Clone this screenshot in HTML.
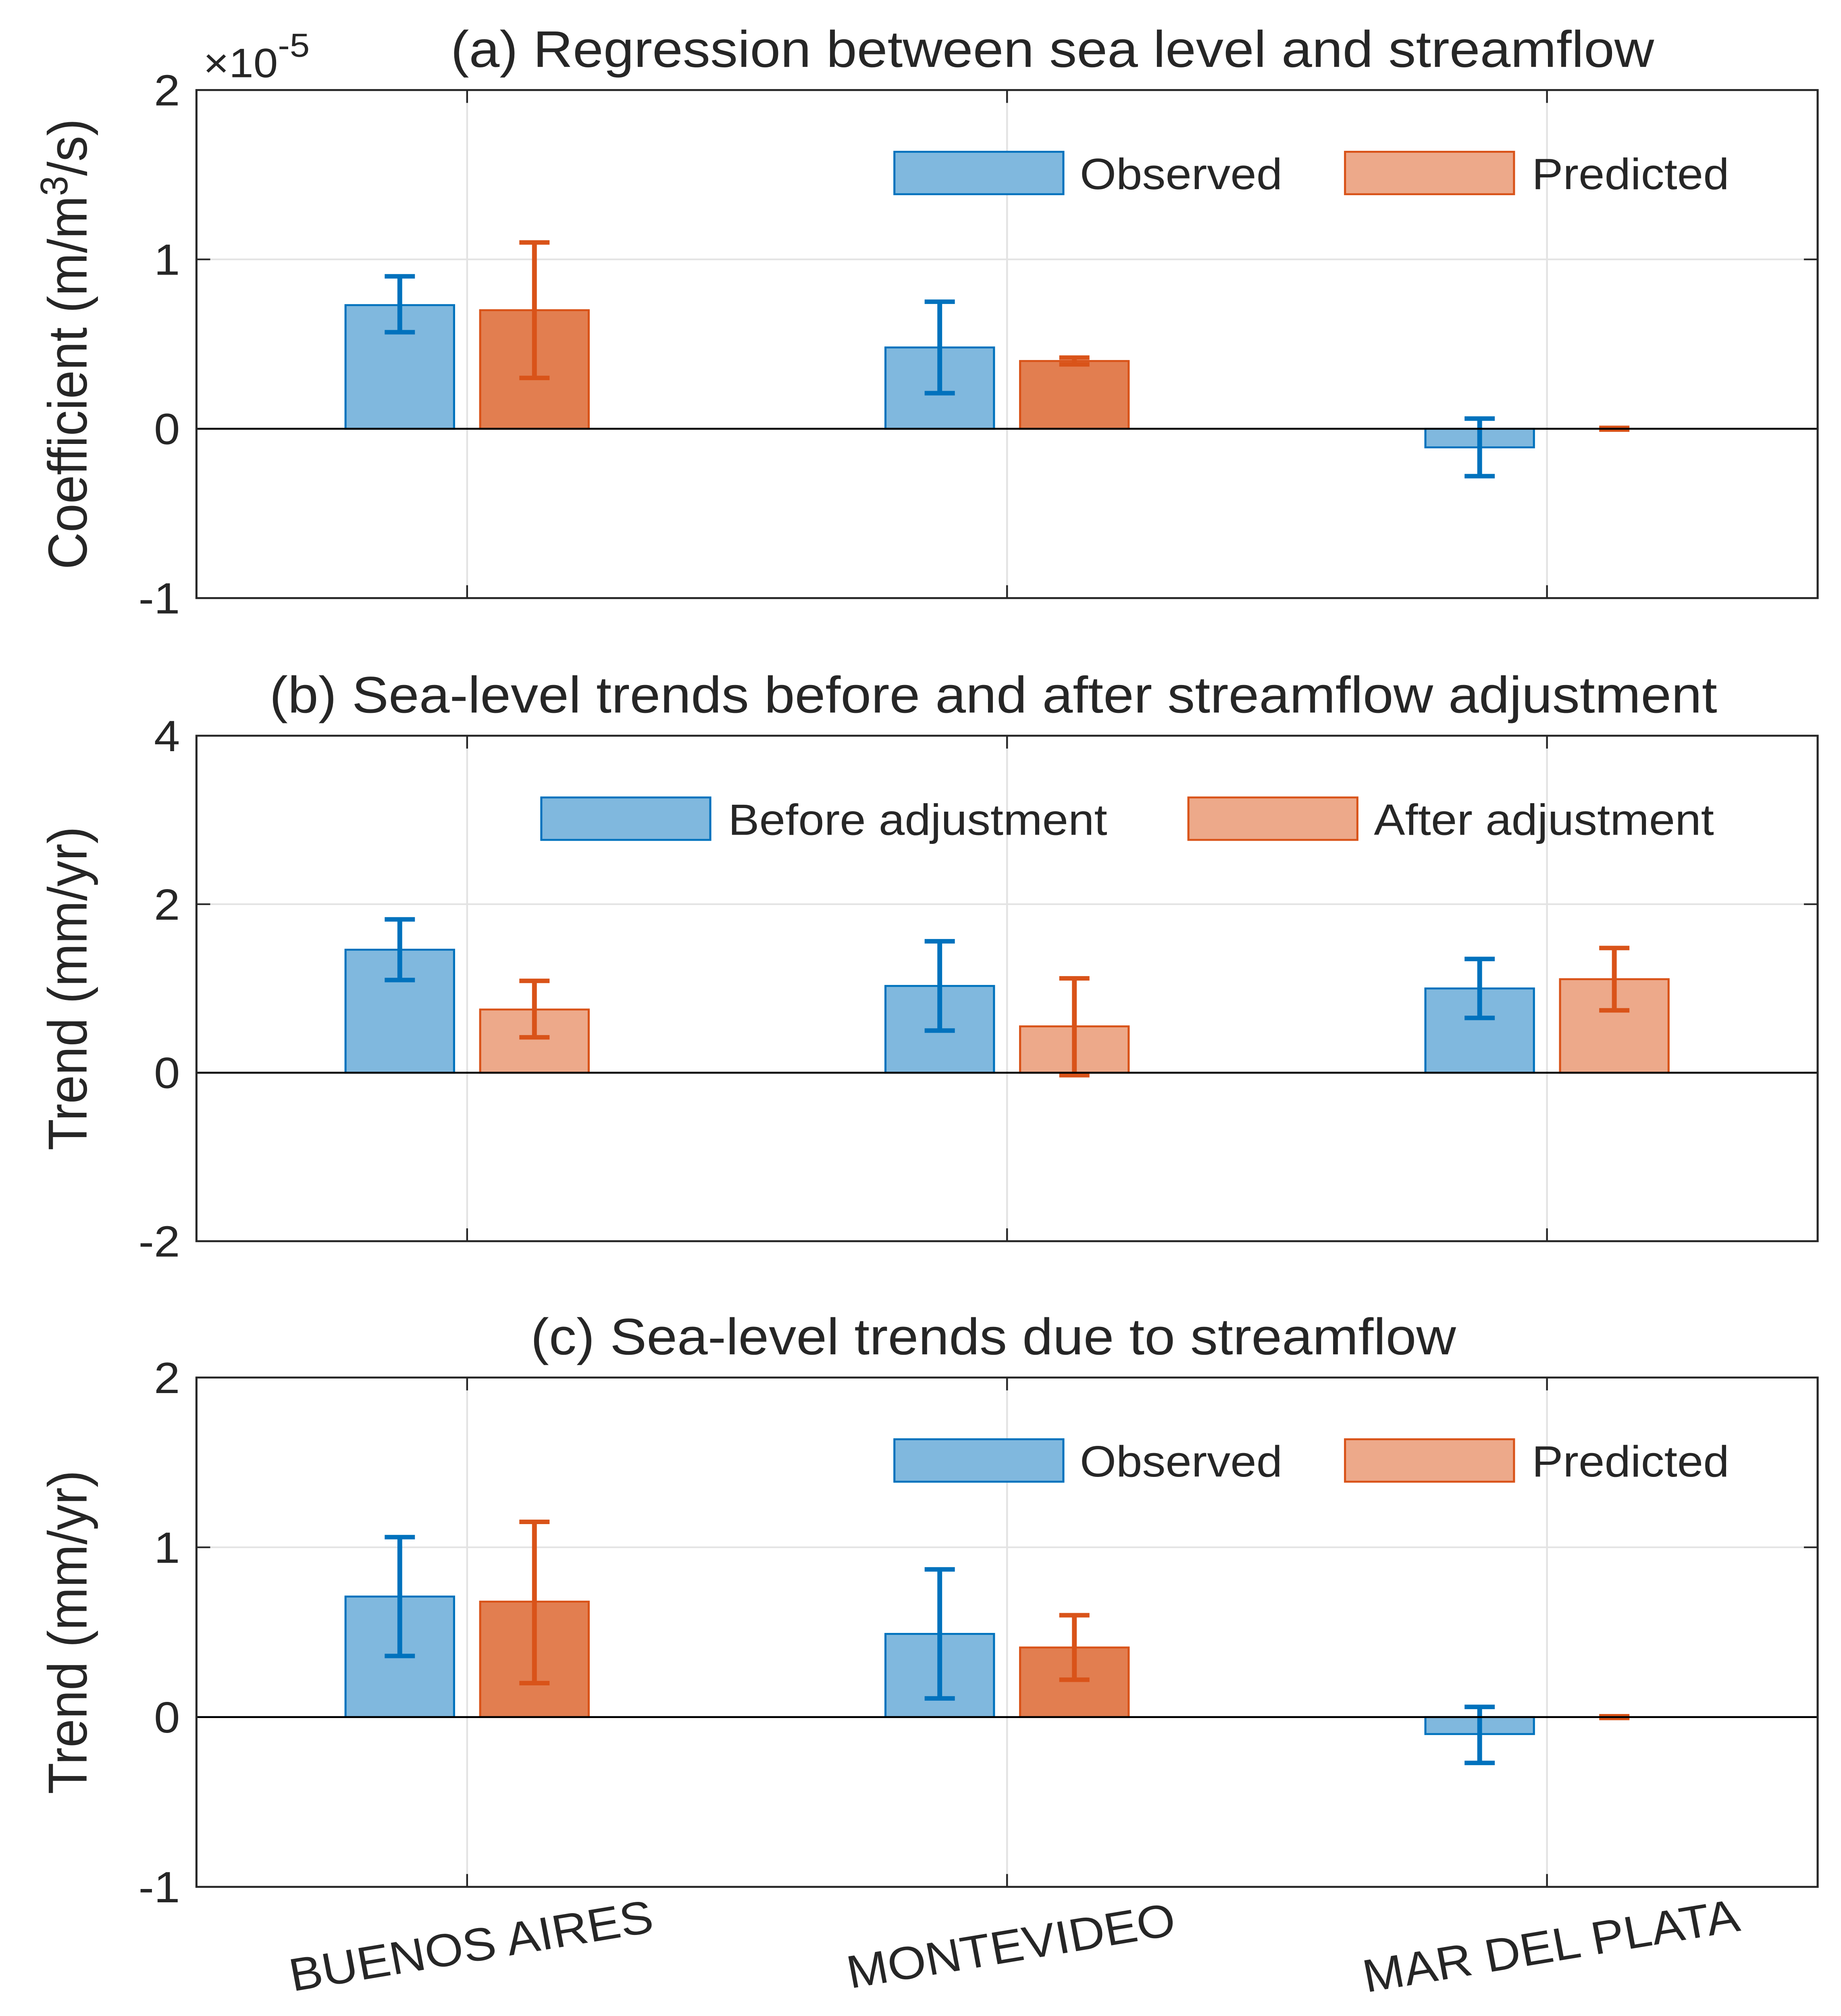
<!DOCTYPE html>
<html><head><meta charset="utf-8"><style>
html,body{margin:0;padding:0;background:#fff;width:100vw;height:100vh;overflow:hidden}
svg{display:block;width:100vw;height:100vh}
text{font-family:"Liberation Sans",sans-serif;fill:#262626}
</style></head><body>
<svg id="fig" xmlns="http://www.w3.org/2000/svg" viewBox="0 0 1340 1567.4" preserveAspectRatio="none"></svg>
<script>
const categories=["BUENOS AIRES","MONTEVIDEO","MAR DEL PLATA"];
const aBlue=[0.73,0.48,-0.11], aBlueLo=[0.57,0.21,-0.28], aBlueHi=[0.90,0.75,0.06];
const aOr=[0.70,0.40,0.0], aOrLo=[0.30,0.38,-0.005], aOrHi=[1.10,0.42,0.005];
const bBlue=[1.46,1.03,1.00], bBlueLo=[1.10,0.50,0.65], bBlueHi=[1.82,1.56,1.35];
const bOr=[0.75,0.55,1.11], bOrLo=[0.42,-0.03,0.74], bOrHi=[1.09,1.12,1.48];
const cBlue=[0.71,0.49,-0.10], cBlueLo=[0.36,0.11,-0.27], cBlueHi=[1.06,0.87,0.06];
const cOr=[0.68,0.41,0.0], cOrLo=[0.20,0.22,-0.005], cOrHi=[1.15,0.60,0.005];
const aTicks=[-1,0,1,2], bTicks=[-2,0,2,4], cTicks=[-1,0,1,2];

const NS="http://www.w3.org/2000/svg";
const svg=document.getElementById('fig');
function el(tag,attrs,parent,txt){const e=document.createElementNS(NS,tag);for(const k in attrs)e.setAttribute(k,attrs[k]);if(txt!==undefined)e.textContent=txt;(parent||svg).appendChild(e);return e;}
const X0=143,X1=1323;
const xCat=i=>340+i*393;
const BW=79,OFF=49;
function panel(id,top,bot,ticks,blue,bLo,bHi,or,oLo,oHi,orFill,title,titleX,ylab,leg){
  const g=el('g',{},svg);
  
  
  const lo=ticks[0],hi=ticks[ticks.length-1];
  const y=v=>bot-(v-lo)/(hi-lo)*(bot-top);
  ticks.forEach(t=>{
    const gl=el('line',{x1:X0,x2:X1,y1:y(t),y2:y(t),stroke:'#e3e3e3','stroke-width':1.3},g);
    
    
    const tl=el('text',{x:X0-12,y:y(t)+12,'text-anchor':'end','font-size':34},g,String(t));
    
    
  });
  categories.forEach((c,i)=>{el('line',{x1:xCat(i),x2:xCat(i),y1:top,y2:bot,stroke:'#e3e3e3','stroke-width':1.3},g);
    el('line',{x1:xCat(i),x2:xCat(i),y1:bot,y2:bot-10,stroke:'#262626','stroke-width':1.3},g);
    el('line',{x1:xCat(i),x2:xCat(i),y1:top,y2:top+10,stroke:'#262626','stroke-width':1.3},g);});
  ticks.forEach(t=>{el('line',{x1:X0,x2:X0+10,y1:y(t),y2:y(t),stroke:'#262626','stroke-width':1.3},g);el('line',{x1:X1,x2:X1-10,y1:y(t),y2:y(t),stroke:'#262626','stroke-width':1.3},g);});
  function bars(vals,los,his,dx,fill,stroke,name){
    vals.forEach((v,i)=>{
      const cx=xCat(i)+dx;
      const r=el('rect',{x:cx-BW/2,y:Math.min(y(v),y(0)),width:BW,height:Math.abs(y(v)-y(0)),fill:fill,stroke:stroke,'stroke-width':1.5},g);
      
      
      const e=el('path',{d:`M${cx},${y(los[i])}V${y(his[i])}M${cx-11},${y(los[i])}H${cx+11}M${cx-11},${y(his[i])}H${cx+11}`,stroke:stroke,'stroke-width':3.5,fill:'none'},g);
      
      
    });
  }
  bars(blue,bLo,bHi,-OFF,'#80b8de','#0072BD','blue');
  bars(or,oLo,oHi,OFF,orFill,'#D95319','orange');
  el('line',{x1:X0,x2:X1,y1:y(0),y2:y(0),stroke:'#000','stroke-width':1.5},g);
  const box=el('rect',{x:X0,y:top,width:X1-X0,height:bot-top,fill:'none',stroke:'#262626','stroke-width':1.5},g);
  
  
  const tt=el('text',{x:titleX,y:top-18,'font-size':40,'text-anchor':'middle'},g,title);
  
  
  const cy=(top+bot)/2;
  const yl=el('text',{x:0,y:0,'font-size':40,'text-anchor':'middle',transform:`translate(63,${cy}) rotate(-90)`},g);
  
  
  if(ylab==='coef'){yl.innerHTML='Coefficient (m/m<tspan dy="-14" font-size="28">3</tspan><tspan dy="14">/s)</tspan>';}
  else yl.textContent=ylab;
  const ly=top+48;
  leg.forEach(L=>{
    const lr=el('rect',{x:L[0],y:ly,width:123,height:33,fill:L[3],stroke:L[4],'stroke-width':1.5},g);
    
    
    const lt=el('text',{x:L[1],y:ly+29,'font-size':34},g,L[2]);
    
    
  });
}
panel('a',70,465,aTicks,aBlue,aBlueLo,aBlueHi,aOr,aOrLo,aOrHi,'#e27e50','(a)  Regression between sea level and streamflow',766,'coef',
 [[651,786,'Observed','#80b8de','#0072BD'],[979,1115,'Predicted','#eda98a','#D95319']]);
panel('b',572,965,bTicks,bBlue,bBlueLo,bBlueHi,bOr,bOrLo,bOrHi,'#eda98a','(b) Sea-level trends before and after streamflow adjustment',723,'Trend (mm/yr)',
 [[394,530,'Before adjustment','#80b8de','#0072BD'],[865,1000,'After adjustment','#eda98a','#D95319']]);
panel('c',1071,1467,cTicks,cBlue,cBlueLo,cBlueHi,cOr,cOrLo,cOrHi,'#e27e50','(c) Sea-level trends due to streamflow',723,'Trend (mm/yr)',
 [[651,786,'Observed','#80b8de','#0072BD'],[979,1115,'Predicted','#eda98a','#D95319']]);
const ex=el('text',{x:148,y:60,'font-size':32});


ex.innerHTML='×10<tspan dy="-16" font-size="26">-5</tspan>';
categories.forEach((c,i)=>{
  const t=el('text',{x:0,y:0,'font-size':36,'text-anchor':'middle',transform:`translate(${xCat(i)+5},${1525}) rotate(-10)`},svg,c);
  
  
});
</script>
</body></html>
